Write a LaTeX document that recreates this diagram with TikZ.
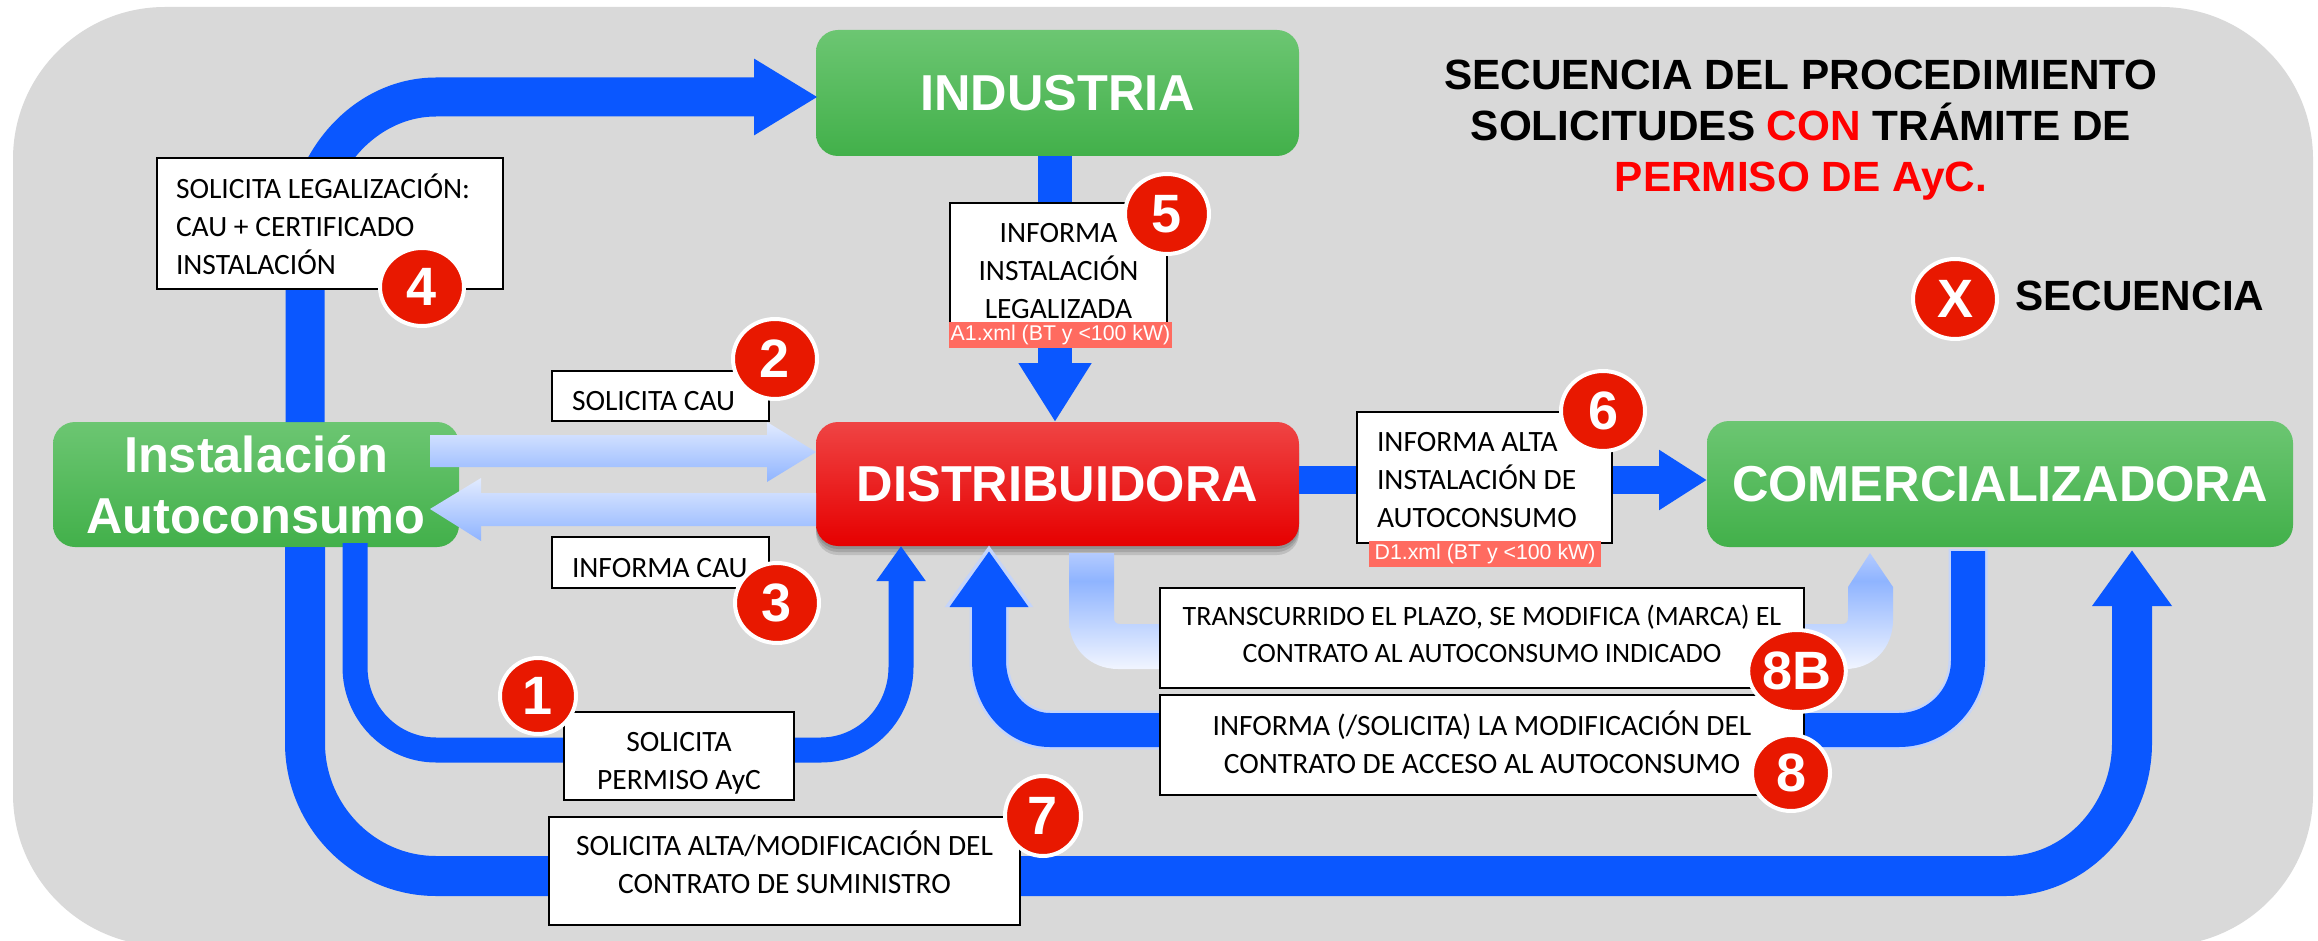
\documentclass[tikz,border=0pt]{standalone}
\usepackage{fontspec}
\setmainfont{Carlito}
\setsansfont{Liberation Sans}
\usetikzlibrary{arrows.meta,shapes.geometric,shadows,calc}
\definecolor{bgc}{HTML}{D9D9D9}
\definecolor{bluec}{HTML}{0A57FF}
\definecolor{blueo}{HTML}{C4D4FA}
\definecolor{redb}{HTML}{E81800}
\definecolor{pinkc}{HTML}{FF6B60}
\definecolor{gtop}{HTML}{6CC672}
\definecolor{gbot}{HTML}{42B04A}
\definecolor{rtop}{HTML}{EF4444}
\definecolor{rmid}{HTML}{F21A12}
\definecolor{rbot}{HTML}{E60000}
\definecolor{pa}{HTML}{E2EBFF}
\definecolor{pb}{HTML}{8FB4FF}
\definecolor{pc}{HTML}{B4CBFF}
\definecolor{pd}{HTML}{F1F5FF}
\pgfdeclareverticalshading{ugrad}{100bp}{color(0bp)=(pd); color(25bp)=(pd); color(63bp)=(pb); color(75bp)=(pc); color(100bp)=(pc)}
\newcommand\bt[3]{\raisebox{#1pt}[0pt][0pt]{\begin{tabular}[c]{@{}#2@{}}#3\end{tabular}}}
\newcommand\btl[3]{\makebox[#1pt][l]{\bt{#2}{l}{#3}}}
\tikzset{
  x=1pt,y=-1pt,
  gnode/.style={rectangle,rounded corners=22pt,top color=gtop,bottom color=gbot,inner sep=0pt,outer sep=0pt,
     text=white,align=center,font=\sffamily\bfseries\fontsize{50.5}{61}\selectfont},
  rnode/.style={gnode,top color=rtop,middle color=rmid,bottom color=rbot,
     general shadow={fill=black,opacity=.12,shadow yshift=-3pt},
     general shadow={fill=black,opacity=.12,shadow yshift=-6pt},
     general shadow={fill=black,opacity=.12,shadow yshift=-9pt}},
  lbox/.style={rectangle,draw=black,line width=1.5pt,fill=white,inner sep=0pt,outer sep=0pt,text=black,
     font=\fontsize{29.5}{38}\selectfont},
  band/.style={draw=bluec,line join=round},
  pinkl/.style={rectangle,fill=pinkc,inner sep=0pt,text=white,font=\sffamily\fontsize{21.3}{24}\selectfont},
  badge/.style={ellipse,draw=white,line width=4pt,fill=redb,inner sep=0pt,text=white,
     font=\sffamily\bfseries\fontsize{54}{54}\selectfont},
  grad/.style={top color=pa,bottom color=pb,draw=none},
  ttl/.style={inner sep=0pt,text=black,align=center,font=\sffamily\bfseries\fontsize{42.3}{51}\selectfont},
}
\begin{document}
\begin{tikzpicture}
\useasboundingbox (0,0) rectangle (2318,941);
\fill[white] (0,0) rectangle (2318,941);
\fill[bgc,rounded corners=152pt] (13,7) rectangle (2313,946);

% main nodes
\node[gnode,minimum width=483pt,minimum height=126pt] (ind) at (1057.5,93) {\raisebox{-2pt}{INDUSTRIA}};
\node[rnode,minimum width=483pt,minimum height=124pt] (dist) at (1057.5,484) {\raisebox{-1.5pt}{DISTRIBUIDORA}};
\node[gnode,minimum width=406pt,minimum height=125pt] (inst) at (256,484.5) {Instalación\\Autoconsumo};
\node[gnode,minimum width=586pt,minimum height=126pt] (com) at (2000,484) {COMERCIALIZADORA};

% connector 4: installation to industry
\coordinate (a4s) at (inst.north -| 305,0);
\coordinate (a4e) at (ind.west |- 0,97);
\draw[band,line width=39pt,-{Triangle[length=64pt,width=72pt]}]
  (a4s) -- (305,246) .. controls (305,164) and (364,97) .. (436,97) -- ($(a4e)+(2,0)$);

% connector 7: installation to retailer
\coordinate (a7s) at (inst.south -| 305,0);
\coordinate (a7e) at (com.south -| 2132,0);
\draw[band,line width=40pt,-{Triangle[length=56pt,width=76pt]}]
  (a7s) -- (305,743) .. controls (305,816) and (364,876) .. (436,876) -- (2006,876)
  .. controls (2075,876) and (2132,816) .. (2132,743) -- ($(a7e)+(0,3)$);

% connector 1: installation to distributor
\coordinate (a1s) at (355,543);
\coordinate (a1e) at (dist.south -| 901,0);
\draw[band,line width=25pt,-{Triangle[length=35pt,width=47pt]}]
  (a1s) -- (355,667) .. controls (355,713) and (391,750) .. (436,750) -- (821,750)
  .. controls (865,750) and (901,713) .. (901,667) -- (a1e);

% connector 8: retailer to distributor
\coordinate (a8s) at (com.south -| 1968,0);
\coordinate (a8e) at (dist.south -| 989,0);
\draw[draw=blueo,line width=39pt,line join=round,-{Triangle[length=62pt,width=84pt]}]
  ($(a8s)+(0,2)$) -- (1968,660) .. controls (1968,699) and (1937,730) .. (1899,730) -- (1050,730)
  .. controls (1016,730) and (989,699) .. (989,660) -- ($(a8e)+(0,-1)$);
\draw[band,line width=34pt,-{Triangle[length=56pt,width=75pt]}]
  ($(a8s)+(0,4)$) -- (1968,660) .. controls (1968,699) and (1937,730) .. (1899,730) -- (1050,730)
  .. controls (1016,730) and (989,699) .. (989,660) -- ($(a8e)+(0,5)$);

% connector 5: industry to distributor
\draw[band,line width=34pt,-{Triangle[length=59pt,width=69pt]}]
  ([xshift=-2.5pt]ind.south) -- ([xshift=-2.5pt]dist.north);

% connector 6: distributor to retailer
\draw[band,line width=28pt,-{Triangle[length=48pt,width=57pt]}]
  ([yshift=4pt]dist.east) -- ([yshift=4pt]com.west);

% light arrow 2
\path[grad] (430,435) -- (767,435) -- (767,422) -- (dist.west |- 0,452) -- (767,482) -- (767,467) -- (430,467) -- cycle;
% light arrow 3
\path[grad] (dist.west |- 0,493) -- (481,493) -- (481,478) -- (430,509) -- (481,541) -- (481,526) -- (dist.west |- 0,526) -- cycle;
% light arrow 8B
\path[shading=ugrad]
  (1069,553) -- (1114,553) -- (1114,618) .. controls (1114,622) and (1116,624) .. (1120,624)
  -- (1842,624) .. controls (1846,624) and (1848,622) .. (1848,618) -- (1848,587) -- (1870,553) -- (1893,587)
  -- (1893,620) .. controls (1893,648) and (1873,669) .. (1845,669) -- (1118,669)
  .. controls (1090,669) and (1069,648) .. (1069,620) -- cycle;

% label boxes
\node[lbox,minimum width=346pt,minimum height=131pt] (b4) at (330,223.5)
  {\btl{308}{-11.5}{SOLICITA LEGALIZACIÓN:\\CAU + CERTIFICADO\\INSTALACIÓN}};
\node[lbox,minimum width=217pt,minimum height=122pt] (b5) at (1058.5,264)
  {\bt{-15}{c}{INFORMA\\INSTALACIÓN\\LEGALIZADA}};
\node[pinkl,minimum width=223pt,minimum height=26pt] (p5) at (1060.5,335) {A1.xml (BT y <100 kW)};
\node[lbox,minimum width=217pt,minimum height=50pt] (b2) at (660.5,396) {\btl{177}{-13.5}{SOLICITA CAU}};
\node[lbox,minimum width=217pt,minimum height=51pt] (b3) at (660.5,562.5) {\btl{177}{-14}{INFORMA CAU}};
\node[lbox,minimum width=230pt,minimum height=88pt] (b1) at (679,756) {\bt{-13}{c}{SOLICITA\\PERMISO AyC}};
\node[lbox,minimum width=471pt,minimum height=108pt] (b7) at (784.5,871)
  {\bt{-2.5}{c}{SOLICITA ALTA/MODIFICACIÓN DEL\\CONTRATO DE SUMINISTRO}};
\node[lbox,minimum width=255pt,minimum height=131pt] (b6) at (1484.5,477.5)
  {\btl{215}{-11}{INFORMA ALTA\\INSTALACIÓN DE\\AUTOCONSUMO}};
\node[pinkl,minimum width=232pt,minimum height=26pt] (p6) at (1485,554) {D1.xml (BT y <100 kW)\hspace{9pt}};
\node[lbox,font=\fontsize{28}{37}\selectfont,minimum width=644pt,minimum height=100pt] (b8b) at (1482,638)
  {\bt{-5.2}{c}{TRANSCURRIDO EL PLAZO, SE MODIFICA (MARCA) EL\\CONTRATO AL AUTOCONSUMO INDICADO}};
\node[lbox,minimum width=644pt,minimum height=100pt] (b8) at (1482,745)
  {\bt{-8}{c}{INFORMA (/SOLICITA) LA MODIFICACIÓN DEL\\CONTRATO DE ACCESO AL AUTOCONSUMO}};

% badges
\node[badge,minimum width=76pt,minimum height=76pt] (n1) at (538,696) {1};
\node[badge,minimum width=84pt,minimum height=80pt] (n2) at (775,359) {2};
\node[badge,minimum width=84pt,minimum height=80pt] (n3) at (777,603) {3};
\node[badge,minimum width=84pt,minimum height=78pt] (n4) at (422,287) {4};
\node[badge,minimum width=84pt,minimum height=80pt] (n5) at (1167,214) {5};
\node[badge,minimum width=84pt,minimum height=80pt] (n6) at (1603,411) {6};
\node[badge,minimum width=76pt,minimum height=80pt] (n7) at (1043,816) {7};
\node[badge,minimum width=78pt,minimum height=76pt] (n8) at (1791,773) {8};
\node[badge,minimum width=94pt,minimum height=82pt] (n8b) at (1797,671) {8B};
\node[badge,minimum width=84pt,minimum height=80pt] (nx) at (1955,299) {X};

% titles
\node[ttl] (title) at (1801,130) {SECUENCIA DEL PROCEDIMIENTO\\SOLICITUDES \textcolor{red}{CON} TRÁMITE DE\\\textcolor{red}{PERMISO DE AyC.}};
\node[ttl,anchor=west] (seq) at (2015,296) {SECUENCIA};
\end{tikzpicture}
\end{document}
